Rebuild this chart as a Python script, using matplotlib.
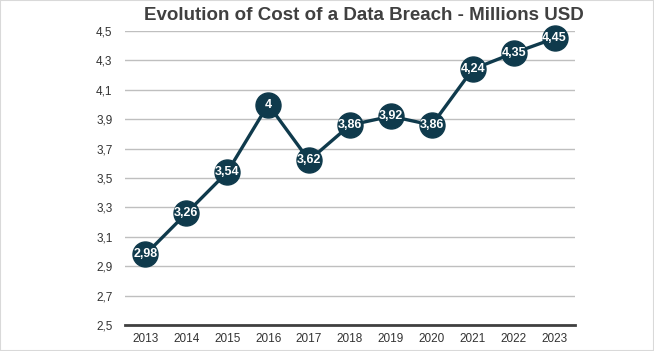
import matplotlib
matplotlib.use("Agg")
import matplotlib.pyplot as plt
from matplotlib.patches import Rectangle

years = ["2013", "2014", "2015", "2016", "2017", "2018", "2019", "2020", "2021", "2022", "2023"]
costs = [2.98, 3.26, 3.54, 4.00, 3.62, 3.86, 3.92, 3.86, 4.24, 4.35, 4.45]
yticks = [2.5, 2.7, 2.9, 3.1, 3.3, 3.5, 3.7, 3.9, 4.1, 4.3, 4.5]

plt.rcParams['font.family'] = ['Liberation Sans', 'DejaVu Sans']
color = "#0f3a4c"

fig = plt.figure(figsize=(6.54, 3.51), dpi=100)
ax = fig.add_axes([125/654, 1-325/351, 450/654, 294/351])

x = list(range(len(years)))
ax.plot(x, costs, color=color, lw=2.4, marker="o", markersize=18, zorder=3, clip_on=False)
for xi, v in zip(x, costs):
    lbl = ("%g" % v).replace(".", ",")
    ax.text(xi, v, lbl, color="white", ha="center", va="center", fontsize=9,
            fontweight="bold", zorder=4)

ax.set_xlim(-0.5, len(years) - 0.5)
ax.set_ylim(2.5, 4.5)
ax.set_yticks(yticks)
ax.set_yticklabels([("%.1f" % t).replace(".", ",") for t in yticks])
ax.set_xticks(x)
ax.set_xticklabels(years)
ax.tick_params(axis="both", length=0, labelsize=8.5, colors="#333333")
ax.tick_params(axis="y", pad=9)
ax.tick_params(axis="x", pad=6)
ax.grid(axis="y", color="#bfbfbf", lw=1)
ax.set_axisbelow(True)
for s in ["top", "right", "left"]:
    ax.spines[s].set_visible(False)
ax.spines["bottom"].set_color("#404040")
ax.spines["bottom"].set_linewidth(2)

fig.text(0.556, 1-16/351, "Evolution of Cost of a Data Breach - Millions USD", ha="center",
         va="center", fontsize=13.5, fontweight="bold", color="#404040")

fig.patches.append(Rectangle((0, 0), 1, 1, transform=fig.transFigure, fill=False,
                             edgecolor="#d9d9d9", lw=1.5))
fig.savefig("out.png", dpi=100)
